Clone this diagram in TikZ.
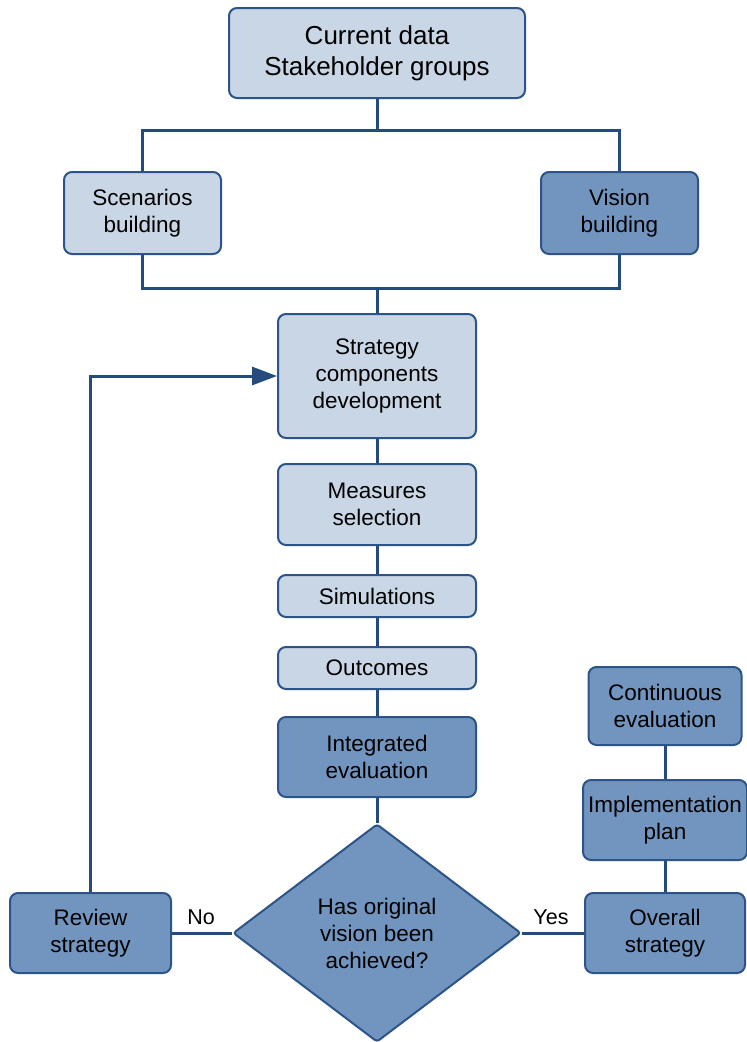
\documentclass[tikz,border=0pt]{standalone}
\usepackage{fontspec}
\setmainfont{Liberation Sans}
\usetikzlibrary{shapes.geometric,arrows.meta}
\definecolor{lightfill}{RGB}{201,214,229}
\definecolor{darkfill}{RGB}{114,149,192}
\definecolor{bordercol}{RGB}{44,84,136}
\definecolor{linecol}{RGB}{36,74,126}
\begin{document}
\begin{tikzpicture}[x=1pt,y=1pt,
  box/.style={draw=bordercol,line width=2pt,rounded corners=8pt,align=center,inner sep=0pt,
    font=\fontsize{22.5}{27}\selectfont},
  lightbox/.style={box,fill=lightfill},
  darkbox/.style={box,fill=darkfill},
  conn/.style={draw=linecol,line width=3pt},
  lbl/.style={font=\fontsize{21.5}{26}\selectfont,inner sep=0pt}]
\useasboundingbox (0,0) rectangle (747,-1042);
\node[lightbox,minimum width=296,minimum height=90,font=\fontsize{26}{31}\selectfont] (top) at (377,-53) {Current data\\Stakeholder groups};
\node[lightbox,minimum width=157,minimum height=82] (scen) at (142.5,-213) {Scenarios\\building};
\node[darkbox,minimum width=157,minimum height=82] (vis) at (619.5,-213) {Vision\\building};
\node[lightbox,minimum width=198,minimum height=124] (strat) at (377,-376) {Strategy\\components\\development};
\node[lightbox,minimum width=198,minimum height=81] (meas) at (377,-504.5) {Measures\\selection};
\node[lightbox,minimum width=198,minimum height=42] (sim) at (377,-596) {Simulations};
\node[lightbox,minimum width=198,minimum height=42] (outc) at (377,-668) {Outcomes};
\node[darkbox,minimum width=198,minimum height=80] (integ) at (377,-757) {Integrated\\evaluation};
\node[diamond,draw=bordercol,fill=darkfill,line width=2pt,rounded corners=3pt,align=center,inner sep=0pt,
  aspect=1.32,minimum width=288,minimum height=218,font=\fontsize{22.5}{27}\selectfont] (diam) at (377,-933) {Has original\\vision been\\achieved?};
\node[darkbox,minimum width=161,minimum height=80] (rev) at (90.5,-933) {Review\\strategy};
\node[darkbox,minimum width=160,minimum height=80] (over) at (665,-933) {Overall\\strategy};
\node[darkbox,minimum width=164,minimum height=80] (impl) at (665,-820) {Implementation\\plan};
\node[darkbox,minimum width=153,minimum height=78] (cont) at (665,-706) {Continuous\\evaluation};
\coordinate (bus1) at (377,-130);
\coordinate (bus2) at (377,-288);
\begin{scope}[on background layer/.style={}]
\draw[conn] (top.south) -- (bus1);
\draw[conn] (scen.north) |- (bus1) -| (vis.north);
\draw[conn] (scen.south) |- (bus2) -| (vis.south);
\draw[conn] (bus2) -- (strat.north);
\draw[conn] (strat.south) -- (meas.north);
\draw[conn] (meas.south) -- (sim.north);
\draw[conn] (sim.south) -- (outc.north);
\draw[conn] (outc.south) -- (integ.north);
\draw[conn] (integ.south) -- (diam.north);
\draw[conn] (diam.west) -- (rev.east);
\draw[conn] (diam.east) -- (over.west);
\draw[conn] (cont.south) -- (impl.north);
\draw[conn] (impl.south) -- (over.north);
\draw[conn,-{Triangle[length=25pt,width=18pt]}] (rev.north) |- (strat.west);
\end{scope}
\node[lbl] (no) at (201,-917) {No};
\node[lbl] (yes) at (551,-917) {Yes};
\end{tikzpicture}
\end{document}
